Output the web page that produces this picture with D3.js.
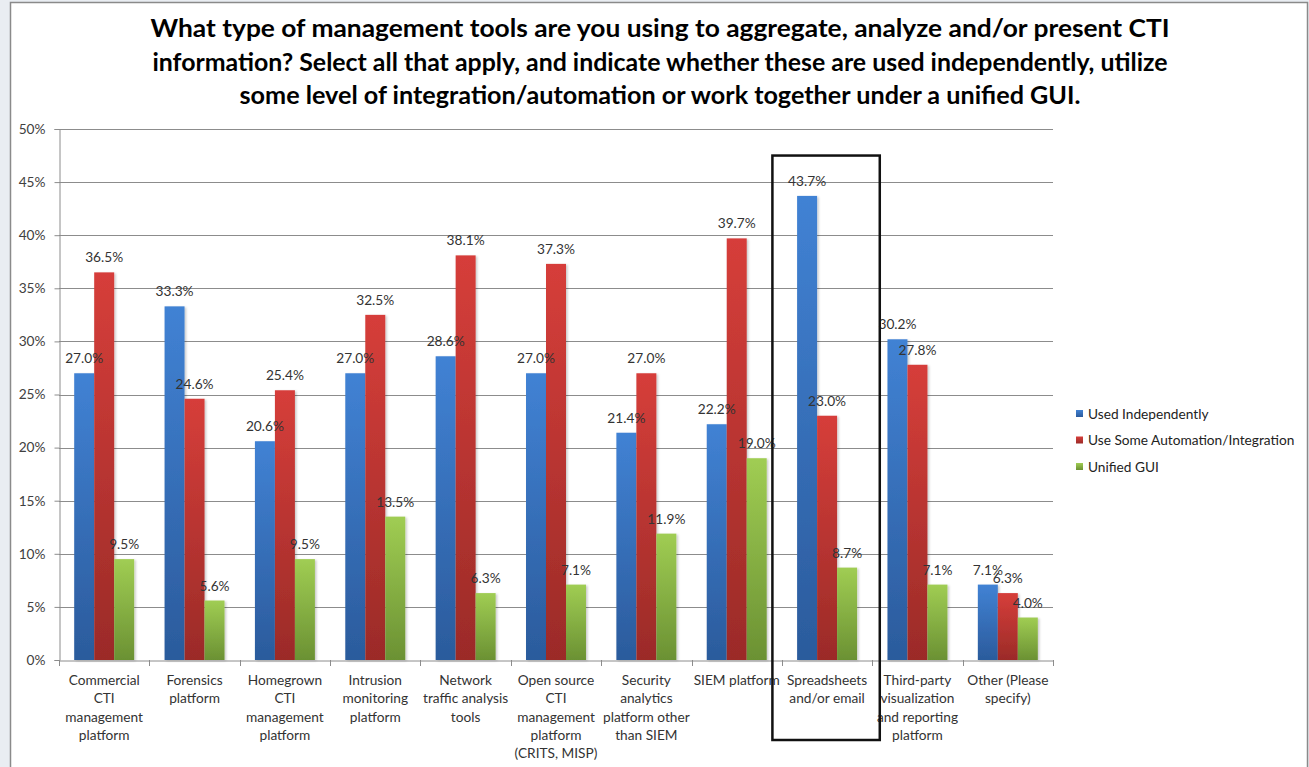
<!DOCTYPE html>
<html>
<head>
<meta charset="utf-8">
<script src="https://cdn.jsdelivr.net/npm/d3@7/dist/d3.min.js"></script>
<style>
  html, body { margin: 0; padding: 0; background: #e9edf2; }
  svg { display: block; }
  text { font-family: Lato, "Open Sans", sans-serif; }
</style>
</head>
<body>
<svg id="chart" width="1309" height="767"></svg>
<script>
// Survey categories (line breaks mark how each axis label wraps)
const categories = [
  "Commercial\nCTI\nmanagement\nplatform",
  "Forensics\nplatform",
  "Homegrown\nCTI\nmanagement\nplatform",
  "Intrusion\nmonitoring\nplatform",
  "Network\ntraffic analysis\ntools",
  "Open source\nCTI\nmanagement\nplatform\n(CRITS, MISP)",
  "Security\nanalytics\nplatform other\nthan SIEM",
  "SIEM platform",
  "Spreadsheets\nand/or email",
  "Third-party\nvisualization\nand reporting\nplatform",
  "Other (Please\nspecify)"
];
const seriesNames = ["Used Independently", "Use Some Automation/Integration", "Unified GUI"];
const usedIndependently = [27.0, 33.3, 20.6, 27.0, 28.6, 27.0, 21.4, 22.2, 43.7, 30.2, 7.1];
const someAutomation    = [36.5, 24.6, 25.4, 32.5, 38.1, 37.3, 27.0, 39.7, 23.0, 27.8, 6.3];
const unifiedGUI        = [9.5, 5.6, 9.5, 13.5, 6.3, 7.1, 11.9, 19.0, 8.7, 7.1, 4.0];
const yTicks = [0, 5, 10, 15, 20, 25, 30, 35, 40, 45, 50];
const titleLines = [
  "What type of management tools are you using to aggregate, analyze and/or present CTI",
  "information? Select all that apply, and indicate whether these are used independently, utilize",
  "some level of integration/automation or work together under a unified GUI."
];
const highlighted = "Spreadsheets\nand/or email";

const seriesValues = [usedIndependently, someAutomation, unifiedGUI];
const colors = [
  { top: "#4182d4", bottom: "#2b5b9c" },
  { top: "#d63e3a", bottom: "#9b2b28" },
  { top: "#a0cd53", bottom: "#6b9133" }
];
const labelFont = 13.7;

const svg = d3.select("#chart");

// Page frame
svg.append("rect").attr("x", 10.5).attr("y", 2.5).attr("width", 1297).attr("height", 780)
  .attr("fill", "#ffffff").attr("stroke", "#8a8a8a").attr("stroke-width", 1.5);

const defs = svg.append("defs");
colors.forEach((c, i) => {
  const g = defs.append("linearGradient").attr("id", "grad" + i)
    .attr("x1", 0).attr("y1", 0).attr("x2", 0).attr("y2", 1);
  g.append("stop").attr("offset", "0%").attr("stop-color", c.top);
  g.append("stop").attr("offset", "100%").attr("stop-color", c.bottom);
});
const shadow = defs.append("filter").attr("id", "shadow")
  .attr("x", "-20%").attr("y", "-5%").attr("width", "150%").attr("height", "115%");
shadow.append("feDropShadow").attr("dx", 1.5).attr("dy", 1).attr("stdDeviation", 1)
  .attr("flood-color", "#000").attr("flood-opacity", 0.22);

// Title, each line stretched to its set width
const titleWidths = [1019, 1015, 841];
const title = svg.append("text").attr("text-anchor", "middle")
  .attr("font-size", 25).attr("font-weight", "bold").attr("fill", "#000");
titleLines.forEach((l, i) => {
  title.append("tspan").attr("x", 660).attr("y", 37 + i * 33.5)
    .attr("textLength", titleWidths[i]).attr("lengthAdjust", "spacingAndGlyphs").text(l);
});

// Scales
const plotLeft = 59, plotRight = 1053, plotTop = 129, plotBottom = 660;
const x = d3.scaleBand().domain(categories).range([plotLeft, plotRight]).paddingInner(0).paddingOuter(0);
const x1 = d3.scaleBand().domain(d3.range(3)).range([0, x.bandwidth()]).paddingInner(0).paddingOuter(0.76);
const y = d3.scaleLinear().domain([0, 50]).range([plotBottom, plotTop]);

// Gridlines
svg.append("g").selectAll("line").data(yTicks.filter(t => t > 0)).join("line")
  .attr("x1", plotLeft).attr("x2", plotRight)
  .attr("y1", d => Math.round(y(d)) + 0.5).attr("y2", d => Math.round(y(d)) + 0.5)
  .attr("stroke", "#8c8c8c").attr("stroke-width", 1);

// Y axis
const yAxis = svg.append("g").attr("transform", `translate(${plotLeft + 0.5},0)`)
  .call(d3.axisLeft(y).tickValues(yTicks).tickFormat(d => d + "%").tickSize(5).tickPadding(9));
yAxis.select(".domain").attr("stroke", "#8c8c8c");
yAxis.selectAll(".tick line").attr("stroke", "#8c8c8c");
yAxis.selectAll("text").attr("font-size", labelFont).attr("fill", "#404040")
  .style("font-family", "Lato, 'Open Sans', sans-serif");

// Bars
const groups = svg.append("g").selectAll("g").data(categories).join("g")
  .attr("transform", d => `translate(${x(d)},0)`);
groups.selectAll("rect").data((d, i) => seriesValues.map((s, k) => ({ k, v: s[i] }))).join("rect")
  .attr("x", d => x1(d.k)).attr("width", x1.bandwidth())
  .attr("y", d => y(d.v)).attr("height", d => y(0) - y(d.v))
  .attr("fill", d => `url(#grad${d.k})`).attr("filter", "url(#shadow)");

// X axis
const xAxis = svg.append("g").attr("transform", `translate(0,${plotBottom + 0.5})`)
  .call(d3.axisBottom(x).tickSize(0).tickFormat(""));
xAxis.select(".domain").attr("stroke", "#8c8c8c");
svg.append("g").selectAll("line").data(d3.range(categories.length + 1)).join("line")
  .attr("x1", i => Math.round(plotLeft + i * x.step()) + 0.5).attr("x2", i => Math.round(plotLeft + i * x.step()) + 0.5)
  .attr("y1", plotBottom).attr("y2", plotBottom + 6).attr("stroke", "#8c8c8c");

// Category labels
const catLabels = svg.append("g").selectAll("text").data(categories).join("text")
  .attr("text-anchor", "middle").attr("font-size", labelFont).attr("fill", "#333");
catLabels.each(function (d) {
  const t = d3.select(this);
  d.split("\n").forEach((line, i) => {
    t.append("tspan").attr("x", x(d) + x.bandwidth() / 2).attr("y", 685 + i * 18.3).text(line);
  });
});

// Value labels
groups.selectAll("text.val").data((d, i) => seriesValues.map((s, k) => ({ k, v: s[i] }))).join("text")
  .attr("class", "val").attr("text-anchor", "middle").attr("font-size", labelFont).attr("fill", "#333")
  .attr("x", d => x1(d.k) + x1.bandwidth() / 2).attr("y", d => y(d.v) - 10)
  .text(d => d.v.toFixed(1) + "%");

// Legend
const legend = svg.append("g").attr("transform", "translate(1076,414)");
seriesNames.forEach((n, i) => {
  const row = legend.append("g").attr("transform", `translate(0,${i * 26.5})`);
  row.append("rect").attr("x", 0).attr("y", -4).attr("width", 7).attr("height", 7)
    .attr("fill", `url(#grad${i})`);
  row.append("text").attr("x", 12).attr("y", 4.5).attr("font-size", labelFont).attr("fill", "#222").text(n);
});

// Highlight box around one category
svg.append("rect")
  .attr("x", x(highlighted) - 9.5).attr("y", y(47.5))
  .attr("width", x.bandwidth() + 17).attr("height", 740 - y(47.5))
  .attr("fill", "none").attr("stroke", "#111").attr("stroke-width", 2.5);
</script>
</body>
</html>
